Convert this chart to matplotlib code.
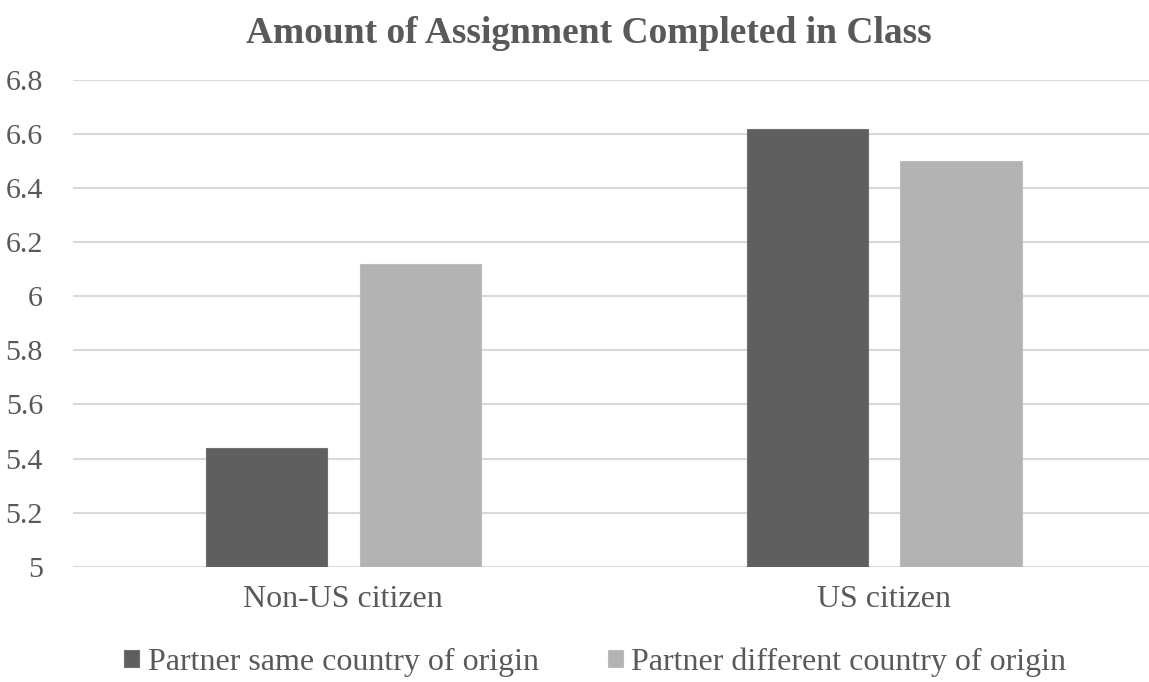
import matplotlib
matplotlib.use("Agg")
import matplotlib.pyplot as plt
import numpy as np

categories = ["Non-US citizen", "US citizen"]
series_names = ["Partner same country of origin", "Partner different country of origin"]
same_origin = [5.44, 6.62]
diff_origin = [6.12, 6.50]
y_ticks = [5, 5.2, 5.4, 5.6, 5.8, 6, 6.2, 6.4, 6.6, 6.8]
y_tick_labels = ["5", "5.2", "5.4", "5.6", "5.8", "6", "6.2", "6.4", "6.6", "6.8"]
title = "Amount of Assignment Completed in Class"

plt.rcParams['font.family'] = ['Liberation Serif', 'DejaVu Serif']
text_color = "#595959"

fig = plt.figure(figsize=(11.49, 6.82), dpi=100)
ax = fig.add_axes([73/1149, 1 - 566.7/682, 1 - 73/1149, (566.7 - 80)/682])

x = np.arange(len(categories))
w = 0.224
off = 0.1423
b1 = ax.bar(x - off, same_origin, width=w, color="#5f5f5f", edgecolor="#707070",
            linewidth=0.8, label=series_names[0], zorder=3)
b2 = ax.bar(x + off, diff_origin, width=w, color="#b3b3b3", edgecolor="#bdbdbd",
            linewidth=0.8, label=series_names[1], zorder=3)

ax.set_ylim(5, 6.8)
ax.set_xlim(-0.5, 1.49)
ax.set_yticks(y_ticks)
ax.set_yticklabels(y_tick_labels)
ax.set_xticks(x)
ax.set_xticklabels(categories)
ax.yaxis.grid(True, color="#d9d9d9", linewidth=1.5, zorder=0)
ax.set_axisbelow(True)
for s in ax.spines.values():
    s.set_visible(False)
ax.tick_params(axis='y', length=0, pad=21.6, labelsize=21.6, labelcolor=text_color)
ax.tick_params(axis='x', length=0, pad=13, labelsize=23, labelcolor=text_color)

fig.text(589/1149, 1 - 43/682, title, ha='center', va='baseline',
         fontsize=27, fontweight='bold', color=text_color)

leg = fig.legend(handles=[b1, b2], labels=series_names, ncol=2, loc='center',
                 bbox_to_anchor=(595/1149, 1 - 662/682), frameon=False,
                 fontsize=23, handlelength=0.47, handleheight=0.47,
                 handletextpad=0.28, columnspacing=2.16, borderpad=0, borderaxespad=0)
for t in leg.get_texts():
    t.set_color(text_color)

fig.savefig("out.png", dpi=100)
